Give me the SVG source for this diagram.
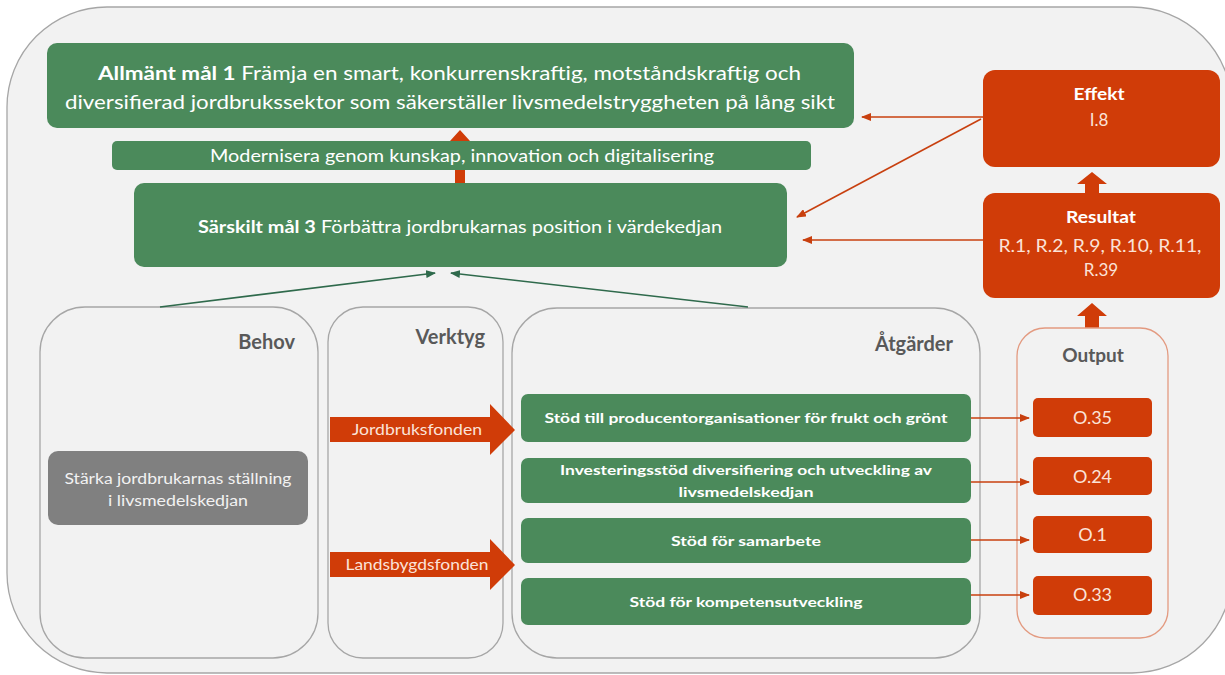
<svg xmlns="http://www.w3.org/2000/svg" width="1225" height="675" viewBox="0 0 1225 675">
<defs>
<marker id="ar" markerUnits="userSpaceOnUse" markerWidth="10" markerHeight="8" refX="9" refY="4" orient="auto"><path d="M0,0 L10,4 L0,8 z" fill="#c8400f"/></marker>
<marker id="ag" markerUnits="userSpaceOnUse" markerWidth="10" markerHeight="8" refX="9" refY="4" orient="auto"><path d="M0,0 L10,4 L0,8 z" fill="#2f6a4c"/></marker>
</defs>
<style>
text{font-family:Lato,"Liberation Sans",sans-serif}
.g{fill:#4b8a5b}
.r{fill:#d03c08}
.cont{fill:#f2f2f2;stroke:#a6a6a6;stroke-width:1.3}
.w{fill:#ffffff}
.hd{fill:#595959;font-weight:bold;font-size:20px}
.ms{fill:#ffffff;font-weight:bold;font-size:14px;text-anchor:middle}
.ot{fill:#fbe3d8;font-size:18px;text-anchor:middle}
.rl{stroke:#c8400f;stroke-width:1.6;fill:none}
.gl{stroke:#2f6a4c;stroke-width:1.6;fill:none}
</style>
<rect width="1225" height="675" fill="#ffffff"/>
<rect x="7" y="7" width="1225" height="666" rx="100" class="cont"/>

<g id="goal1">
<rect x="47" y="43" width="807" height="85" rx="10" class="g"/>
<text x="98" y="80" font-size="19" class="w" textLength="703" lengthAdjust="spacingAndGlyphs"><tspan font-weight="bold">Allmänt mål 1</tspan> Främja en smart, konkurrenskraftig, motståndskraftig och</text>
<text x="65" y="109" font-size="19" class="w" textLength="770" lengthAdjust="spacingAndGlyphs">diversifierad jordbrukssektor som säkerställer livsmedelstryggheten på lång sikt</text>
</g>

<g id="uparrow-mid">
<polygon points="455,183 455,141 450,141 460,130 470,141 465,141 465,183" class="r"/>
</g>

<g id="modernisera">
<rect x="112" y="141" width="699" height="29" rx="5" class="g"/>
<text x="210" y="162" font-size="16.5" class="w" textLength="504" lengthAdjust="spacingAndGlyphs">Modernisera genom kunskap, innovation och digitalisering</text>
</g>

<g id="goal3">
<rect x="134" y="183" width="653" height="84" rx="10" class="g"/>
<text x="198" y="233" font-size="16.5" class="w" textLength="524" lengthAdjust="spacingAndGlyphs"><tspan font-weight="bold">Särskilt mål 3</tspan> Förbättra jordbrukarnas position i värdekedjan</text>
</g>

<g id="effekt">
<rect x="983" y="70" width="237" height="97" rx="12" class="r"/>
<text x="1099" y="100" font-size="17" font-weight="bold" class="w" text-anchor="middle" textLength="51" lengthAdjust="spacingAndGlyphs">Effekt</text>
<text x="1099" y="126" font-size="17" fill="#fbe3d8" text-anchor="middle">I.8</text>
</g>

<g id="uparrow-res">
<polygon points="1085,195 1085,184 1077,184 1092,172 1107,184 1099,184 1099,195" class="r"/>
</g>

<g id="resultat">
<rect x="983" y="193" width="237" height="105" rx="12" class="r"/>
<text x="1101" y="223" font-size="17" font-weight="bold" class="w" text-anchor="middle" textLength="70" lengthAdjust="spacingAndGlyphs">Resultat</text>
<text x="1100" y="252" font-size="17" fill="#fbe3d8" text-anchor="middle" textLength="203" lengthAdjust="spacingAndGlyphs">R.1, R.2, R.9, R.10, R.11,</text>
<text x="1101" y="276" font-size="17" fill="#fbe3d8" text-anchor="middle">R.39</text>
</g>

<g id="uparrow-out">
<polygon points="1085,330 1085,316 1077,316 1092,303 1107,316 1099,316 1099,330" class="r"/>
</g>

<g id="behov">
<rect x="40" y="307" width="278" height="351" rx="45" class="cont"/>
<text x="295" y="349" class="hd" text-anchor="end">Behov</text>
</g>

<g id="starka">
<rect x="48" y="451" width="260" height="74" rx="10" fill="#808080"/>
<text x="178" y="484" font-size="15.5" fill="#f2f2f2" text-anchor="middle" textLength="227" lengthAdjust="spacingAndGlyphs">Stärka jordbrukarnas ställning</text>
<text x="178" y="506" font-size="15.5" fill="#f2f2f2" text-anchor="middle" textLength="140" lengthAdjust="spacingAndGlyphs">i livsmedelskedjan</text>
</g>

<g id="verktyg">
<rect x="328" y="307" width="175" height="351" rx="35" class="cont"/>
<text x="485" y="344" class="hd" text-anchor="end">Verktyg</text>
</g>

<g id="atgarder">
<rect x="512" y="308" width="468" height="350" rx="45" class="cont"/>
<text x="953" y="351" class="hd" text-anchor="end">Åtgärder</text>
</g>

<g id="output">
<rect x="1017" y="328" width="151" height="310" rx="28" fill="#f2f2f2" stroke="#e39a80" stroke-width="1.3"/>
<text x="1093" y="362" font-size="19" font-weight="bold" fill="#595959" text-anchor="middle">Output</text>
</g>

<g id="jordbruksfonden">
<polygon points="330,417 490,417 490,404 515,430 490,455 490,442 330,442" class="r"/>
<text x="417" y="435" font-size="15" fill="#fbe3d8" text-anchor="middle" textLength="130" lengthAdjust="spacingAndGlyphs">Jordbruksfonden</text>
</g>

<g id="landsbygdsfonden">
<polygon points="330,552 490,552 490,539 515,565 490,590 490,577 330,577" class="r"/>
<text x="417" y="570" font-size="15" fill="#fbe3d8" text-anchor="middle" textLength="143" lengthAdjust="spacingAndGlyphs">Landsbygdsfonden</text>
</g>

<g id="m1">
<rect x="521" y="394" width="450" height="48" rx="7" class="g"/>
<text x="746" y="423" class="ms" textLength="403" lengthAdjust="spacingAndGlyphs">Stöd till producentorganisationer för frukt och grönt</text>
</g>
<g id="m2">
<rect x="521" y="458" width="450" height="45" rx="7" class="g"/>
<text x="746" y="475" class="ms" textLength="372" lengthAdjust="spacingAndGlyphs">Investeringsstöd diversifiering och utveckling av</text>
<text x="746" y="497" class="ms" textLength="135" lengthAdjust="spacingAndGlyphs">livsmedelskedjan</text>
</g>
<g id="m3">
<rect x="521" y="518" width="450" height="45" rx="7" class="g"/>
<text x="746" y="546" class="ms" textLength="150" lengthAdjust="spacingAndGlyphs">Stöd för samarbete</text>
</g>
<g id="m4">
<rect x="521" y="578" width="450" height="47" rx="7" class="g"/>
<text x="746" y="607" class="ms" textLength="233" lengthAdjust="spacingAndGlyphs">Stöd för kompetensutveckling</text>
</g>

<g id="o35"><rect x="1033" y="398" width="119" height="39" rx="5" class="r"/><text x="1092.5" y="424" class="ot">O.35</text></g>
<g id="o24"><rect x="1033" y="457" width="119" height="38" rx="5" class="r"/><text x="1092.5" y="483" class="ot">O.24</text></g>
<g id="o1"><rect x="1033" y="516" width="119" height="37" rx="5" class="r"/><text x="1092.5" y="541" class="ot">O.1</text></g>
<g id="o33"><rect x="1033" y="576" width="119" height="39" rx="5" class="r"/><text x="1092.5" y="601" class="ot">O.33</text></g>

<g id="connectors">
<line x1="983" y1="117" x2="862" y2="117" class="rl" marker-end="url(#ar)"/>
<line x1="981" y1="119" x2="797" y2="217" class="rl" marker-end="url(#ar)"/>
<line x1="983" y1="240" x2="803" y2="240" class="rl" marker-end="url(#ar)"/>
<line x1="971" y1="418" x2="1029" y2="418" class="rl" marker-end="url(#ar)"/>
<line x1="971" y1="482" x2="1029" y2="482" class="rl" marker-end="url(#ar)"/>
<line x1="971" y1="540" x2="1029" y2="540" class="rl" marker-end="url(#ar)"/>
<line x1="971" y1="595" x2="1029" y2="595" class="rl" marker-end="url(#ar)"/>
<line x1="160" y1="307" x2="435" y2="273" class="gl" marker-end="url(#ag)"/>
<line x1="748" y1="307" x2="451" y2="273" class="gl" marker-end="url(#ag)"/>
</g>
</svg>
